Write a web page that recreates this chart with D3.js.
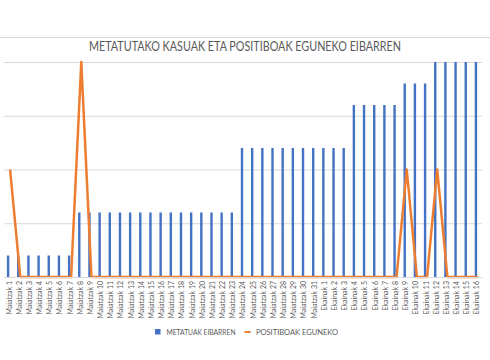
<!DOCTYPE html>
<html><head><meta charset="utf-8">
<script src="https://cdn.jsdelivr.net/npm/d3@7"></script>
<style>body{margin:0;background:#fff}svg{display:block}</style>
</head><body><svg id="c" width="490" height="360"></svg>
<script>
const mayDays = d3.range(1, 32).map(d => "Maiatzak " + d);
const juneDays = d3.range(1, 17).map(d => "Ekainak " + d);
const categories = [...mayDays, ...juneDays];
const tested = [2,2,2,2,2,2,2, 6,6,6,6,6,6,6,6,6,6,6,6,6,6,6,6, 12,12,12,12,12,12,12,12,12,12,12, 16,16,16,16,16, 18,18,18, 20,20,20,20,20];
const positives = [1,0,0,0,0,0,0, 2,0,0,0,0,0,0,0,0,0,0,0,0,0,0,0, 0,0,0,0,0,0,0,0,0,0,0, 0,0,0,0,0, 1,0,0, 1,0,0,0,0];
const leftTicks = [0,5,10,15,20];
const rightTicks = [0,0.5,1,1.5,2];

const svg = d3.select("#c");
const L = 4, R = 482, T = 62, B = 277;
const x = d3.scaleBand().domain(categories).range([L, R]).padding(0);
const y = d3.scaleLinear().domain([0, 20]).range([B, T]);
const y2 = d3.scaleLinear().domain([0, 2]).range([B, T]);

svg.append("line").attr("x1",0).attr("x2",490).attr("y1",37.5).attr("y2",37.5).attr("stroke","#d9d9d9");

svg.append("text").attr("x",245).attr("y",51).attr("text-anchor","middle")
  .attr("font-family","Lato").attr("font-size",13.5).attr("fill","#595959")
  .attr("textLength",312).attr("lengthAdjust","spacingAndGlyphs")
  .text("METATUTAKO KASUAK ETA POSITIBOAK EGUNEKO EIBARREN");

const gy = svg.append("g").attr("transform",`translate(${L},0)`)
  .call(d3.axisLeft(y).tickValues(leftTicks).tickSize(-(R-L)).tickFormat(""));
gy.select(".domain").remove();
gy.selectAll(".tick line").attr("stroke","#d9d9d9");

const bw = 2.4;
svg.append("g").selectAll("rect").data(tested).join("rect")
  .attr("x",(d,i)=>x(categories[i]) + x.bandwidth()/2 - bw/2 - 1)
  .attr("y",d=>y(d)).attr("width",bw).attr("height",d=>B-y(d))
  .attr("fill","#4472C4");

const line = d3.line().x((d,i)=>x(categories[i]) + x.bandwidth()/2 + 1).y(d=>y2(d));
svg.append("path").datum(positives).attr("d",line).attr("fill","none")
  .attr("stroke","#ED7D31").attr("stroke-width",2.5).attr("stroke-linejoin","round");

const gx = svg.append("g").attr("transform",`translate(0,${B})`)
  .call(d3.axisBottom(x).tickSize(0).tickPadding(0));
gx.select(".domain").attr("stroke","#d9d9d9");
gx.selectAll(".tick text").attr("transform","rotate(-90)")
  .attr("text-anchor","end").attr("x",-4).attr("y",0).attr("dy","0.35em")
  .attr("font-family","Lato").attr("font-size",7).attr("fill","#595959");

const lg = svg.append("g").attr("font-family","Lato").attr("font-size",7.2).attr("fill","#595959");
lg.append("rect").attr("x",155).attr("y",329).attr("width",5.5).attr("height",5.5).attr("fill","#4472C4");
lg.append("text").attr("x",166.5).attr("y",334.5).attr("textLength",69).attr("lengthAdjust","spacingAndGlyphs").text("METATUAK EIBARREN");
lg.append("line").attr("x1",244.5).attr("x2",250.5).attr("y1",332).attr("y2",332).attr("stroke","#ED7D31").attr("stroke-width",2);
lg.append("text").attr("x",256).attr("y",334.5).attr("textLength",82).attr("lengthAdjust","spacingAndGlyphs").text("POSITIBOAK EGUNEKO");
</script></body></html>
